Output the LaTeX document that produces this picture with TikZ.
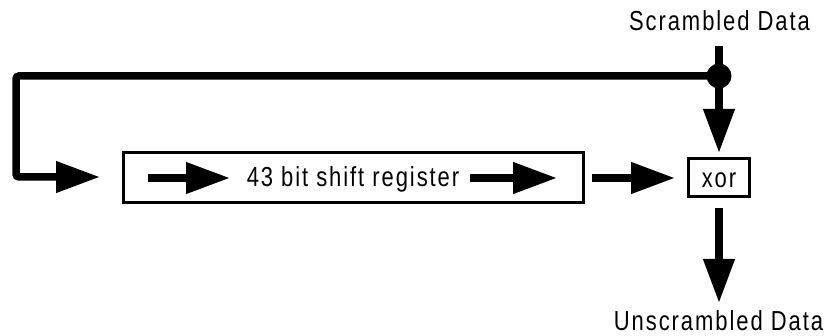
\documentclass[tikz,border=0pt]{standalone}
\usepackage{fontspec}
\usetikzlibrary{arrows.meta}
\newfontfamily\labfont[FakeStretch=0.8,LetterSpace=7]{Liberation Sans}
\begin{document}
\begin{tikzpicture}[x=1pt,y=-1pt,
  lab/.style={font=\labfont\fontsize{27.5}{31}\selectfont, inner sep=0pt},
  boxed/.style={draw, line width=3pt, inner sep=0pt, outer sep=0pt},
  flow/.style={line width=7.5pt, -{Triangle[length=44pt,width=30pt]}},
  thick line/.style={line width=7.5pt}]
\useasboundingbox (0,0) rectangle (831,336);
% boxes
\node[boxed, minimum width=460pt, minimum height=50pt] (reg) at (353,178) {};
\node[lab, anchor=base] (regtext) at (353,187) {43 bit shift register};
\node[boxed, minimum width=61pt, minimum height=38pt] (xor) at (718.5,178) {};
\node[lab, anchor=base] (xortext) at (719,188) {xor};
% labels
\node[lab, anchor=base] (scr) at (719.5,31) {Scrambled Data};
\node[lab, anchor=base] (uns) at (718.5,331) {Unscrambled Data};
% junction dot
\node[circle, fill=black, minimum size=25pt, inner sep=0pt] (dot) at (719,76) {};
% coordinates
\coordinate (in) at (719,46);
\coordinate (c1) at (16,76);
\coordinate (c2) at (16,177);
\coordinate (loopend) at (100,177);
\coordinate (a1s) at (148,178);
\coordinate (a1e) at (230,178);
\coordinate (a2s) at (470,178);
\coordinate (a2e) at (557,178);
\coordinate (rxs) at (592,178);
\coordinate (rxe) at (675,178);
\coordinate (dtip) at (719,153);
\coordinate (os) at (719,208);
\coordinate (oe) at (719,303);
% connectors
\draw[thick line] (in) -- (dot.center);
\draw[flow, rounded corners=3pt] (dot.center) -- (c1) -- (c2) -- (loopend);
\draw[flow] (dot.center) -- (dtip);
\draw[flow] (a1s) -- (a1e);
\draw[flow] (a2s) -- (a2e);
\draw[flow] (rxs) -- (rxe);
\draw[flow] (os) -- (oe);
\end{tikzpicture}
\end{document}
